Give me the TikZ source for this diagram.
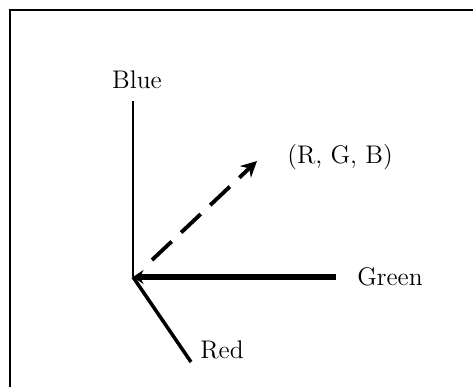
\documentclass[tikz,border=0pt]{standalone}
\usepackage{tikz}
\usetikzlibrary{arrows.meta,positioning}

\begin{document}
\begin{tikzpicture}[x=0.02cm, y=-0.02cm, >=Stealth, line cap=butt,
    font=\fontsize{14.5}{16}\selectfont,
    axislabel/.style={inner sep=0pt, anchor=west}]
  \path[use as bounding box] (0,0) rectangle (473,386); % same canvas as reference
  \clip (0,0) rectangle (473,386);
  % open frame, right and bottom sides run off the page
  \draw[line width=1.7pt] (10,400) -- (10,10) -- (490,10);

  % axes meet at the origin
  \coordinate (O) at (133,277);
  \coordinate (bluetip) at (133,101);
  \coordinate (greentip) at (336,277);
  \coordinate (redtip) at (191,362);
  \coordinate (rgbstart) at (152,260);
  \coordinate (rgbtip) at (257,161);

  \node[inner sep=0pt] (blue) at (137,80) {Blue};
  \node[axislabel] (green) at (357,277) {Green};
  \node[axislabel] (red) at (200,350) {Red};
  \node[axislabel] (rgb) at (287,157) {(R, G, B)};

  \draw[line width=1.7pt] (O) -- (bluetip);
  \draw[line width=3.6pt, {Stealth[length=6pt,width=8pt]}-] (O) -- (greentip);
  \draw[line width=2pt] (O) -- (redtip);
  \draw[line width=2.2pt, dash pattern=on 0.54cm off 0.26cm,
    -{Stealth[length=9pt,width=9pt]}] (rgbstart) -- (rgbtip);
\end{tikzpicture}
\end{document}
